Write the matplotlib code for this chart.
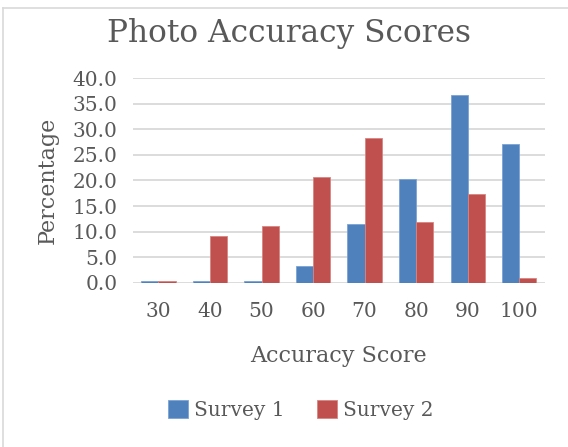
import matplotlib.pyplot as plt
import numpy as np
from matplotlib.lines import Line2D

scores = ['30', '40', '50', '60', '70', '80', '90', '100']
survey1 = [0.4, 0.4, 0.4, 3.2, 11.5, 20.2, 36.7, 27.1]
survey2 = [0.4, 9.1, 11.0, 20.6, 28.4, 11.9, 17.4, 0.9]
yticks = [0, 5, 10, 15, 20, 25, 30, 35, 40]

txt = '#595959'
grid = '#d9d9d9'
plt.rcParams['font.family'] = 'DejaVu Serif'

fig = plt.figure(figsize=(5.68, 4.47), dpi=100)
ax = fig.add_axes([0.2336, 0.3676, 0.7259, 0.4572])

x = np.arange(len(scores))
w = 1 / 3
ax.bar(x - w / 2, survey1, w, color='#4F81BD', edgecolor='#7aa3d6', linewidth=0.6, label='Survey 1', zorder=3)
ax.bar(x + w / 2, survey2, w, color='#C0504D', edgecolor='#d98481', linewidth=0.6, label='Survey 2', zorder=3)

ax.set_xlim(-0.5, len(scores) - 0.5)
ax.set_ylim(0, 40)
ax.set_yticks(yticks)
ax.set_yticklabels(['%.1f' % v for v in yticks])
ax.set_xticks(x)
ax.set_xticklabels(scores)
ax.yaxis.grid(True, color=grid, linewidth=1.3, zorder=0)
ax.set_axisbelow(True)
for s in ax.spines.values():
    s.set_visible(False)
ax.tick_params(length=0, labelsize=14.5, colors=txt)
ax.tick_params(axis='y', pad=11)
ax.tick_params(axis='x', pad=14)

ax.set_xlabel('Accuracy Score', fontsize=16, color=txt, labelpad=17)
ax.set_ylabel('Percentage', fontsize=16, color=txt, labelpad=10)
fig.text(0.508, 0.925, 'Photo Accuracy Scores', fontsize=22.5, color=txt, ha='center', va='center')

fig.legend(loc='center', bbox_to_anchor=(0.53, 0.083), ncol=2, frameon=False,
           fontsize=14.5, labelcolor=txt, handlelength=1.0, handleheight=1.0,
           handletextpad=0.3, columnspacing=1.6)

# chart border (only top and left edge are visible in the crop)
fig.add_artist(Line2D([3 / 568, 1], [1 - 8 / 447, 1 - 8 / 447], color=grid, linewidth=1.2))
fig.add_artist(Line2D([3 / 568, 3 / 568], [0, 1 - 8 / 447], color=grid, linewidth=1.2))

fig.savefig('out.png', dpi=100)
